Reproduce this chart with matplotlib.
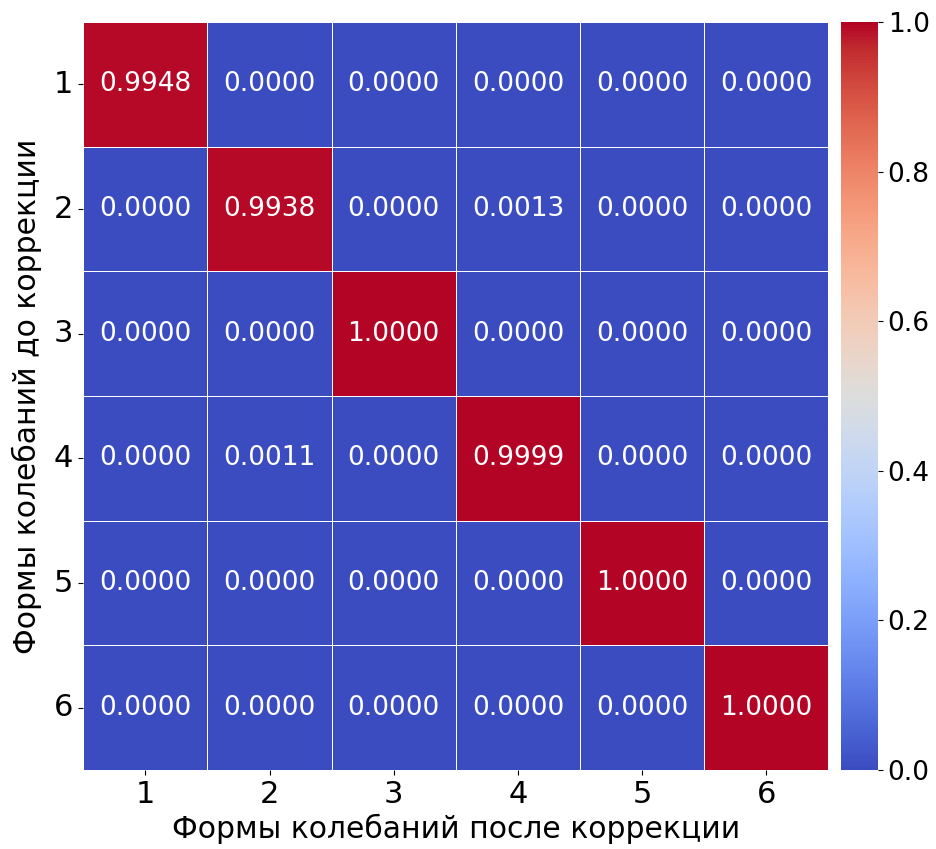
import matplotlib
matplotlib.use("Agg")
import matplotlib.pyplot as plt
import numpy as np
import seaborn as sns

# MAC values between mode shapes before and after correction
modes = ["1", "2", "3", "4", "5", "6"]
row1 = [0.9948, 0.0000, 0.0000, 0.0000, 0.0000, 0.0000]
row2 = [0.0000, 0.9938, 0.0000, 0.0013, 0.0000, 0.0000]
row3 = [0.0000, 0.0000, 1.0000, 0.0000, 0.0000, 0.0000]
row4 = [0.0000, 0.0011, 0.0000, 0.9999, 0.0000, 0.0000]
row5 = [0.0000, 0.0000, 0.0000, 0.0000, 1.0000, 0.0000]
row6 = [0.0000, 0.0000, 0.0000, 0.0000, 0.0000, 1.0000]
mac = np.array([row1, row2, row3, row4, row5, row6])

fig = plt.figure(figsize=(9.36, 8.49), dpi=100)
ax = fig.add_axes([0.089, 0.093, 0.796, 0.881])
cax = fig.add_axes([0.898, 0.093, 0.040, 0.881])

sns.heatmap(mac, ax=ax, cbar_ax=cax, cmap="coolwarm", vmin=0, vmax=1,
            annot=True, fmt=".4f", annot_kws={"size": 19, "color": "white"},
            linewidths=0.6, linecolor="white",
            xticklabels=modes, yticklabels=modes)

ax.set_xlabel("Формы колебаний после коррекции", fontsize=21.5, labelpad=3)
ax.set_ylabel("Формы колебаний до коррекции", fontsize=21.5, labelpad=8)
ax.tick_params(axis="both", labelsize=22, pad=4)
ax.tick_params(axis="y", rotation=0)
cax.tick_params(labelsize=19)

fig.savefig("out.png", dpi=100)
